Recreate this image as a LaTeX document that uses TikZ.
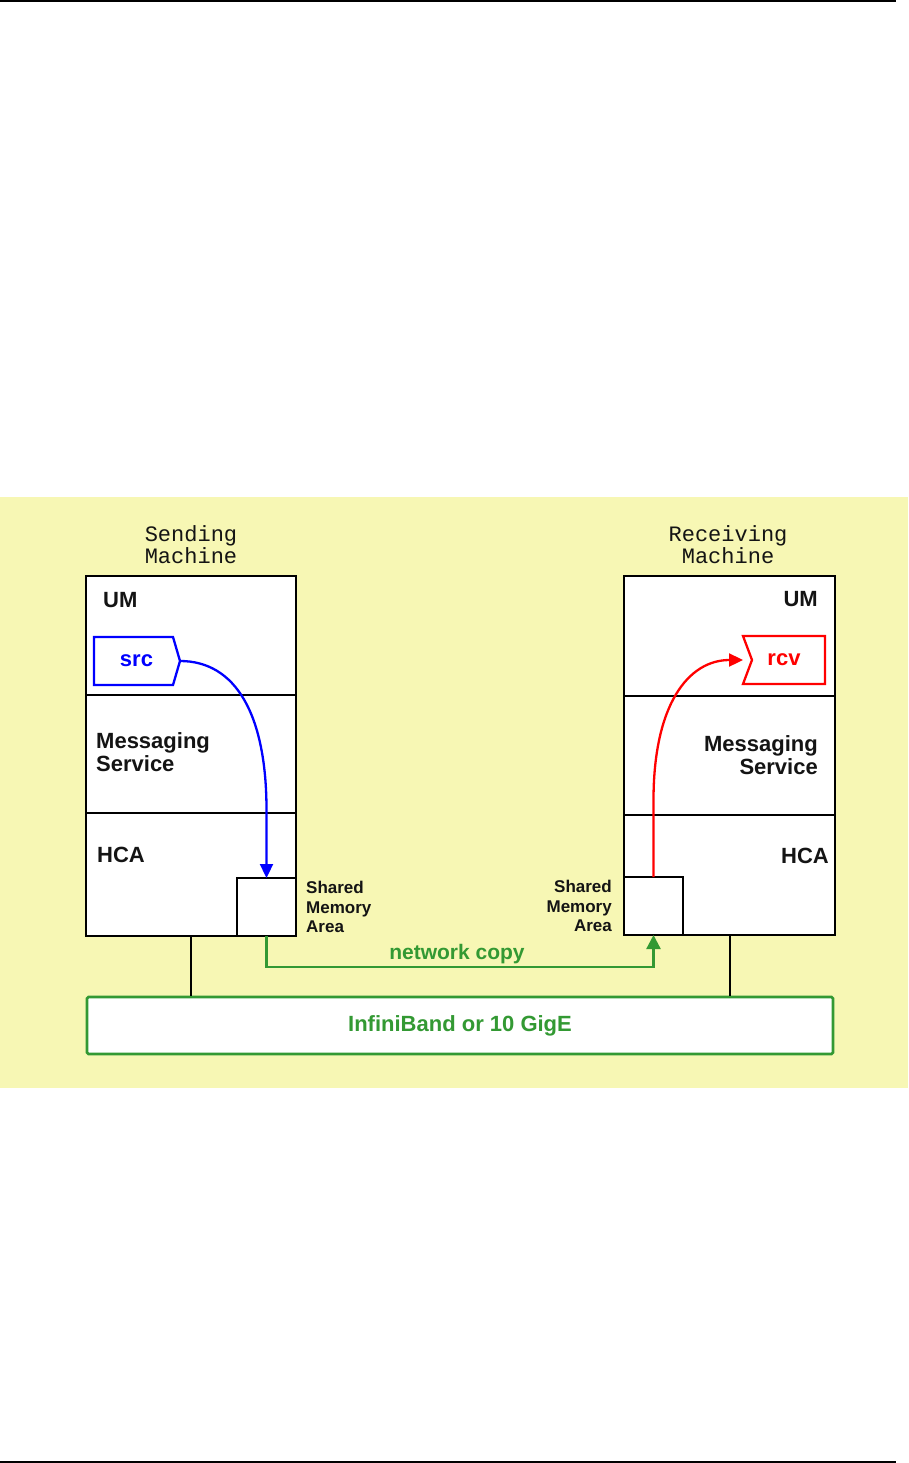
\documentclass[tikz,border=0pt]{standalone}
\usepackage{fontspec}
\setmainfont{Liberation Sans}
\newfontfamily\monofam{Liberation Mono}
\usetikzlibrary{arrows.meta}
\definecolor{bgyellow}{RGB}{247,247,180}
\definecolor{netgreen}{RGB}{51,153,51}
\definecolor{txtblack}{RGB}{20,20,20}
\begin{document}
\begin{tikzpicture}[x=1pt,y=-1pt,
  layer/.style={rectangle, draw=black, fill=white, line width=2.4pt, inner sep=0pt, outer sep=0pt},
  lbl/.style={inner sep=0pt, font=\fontsize{22}{23}\selectfont\bfseries, text=txtblack},
  smalllbl/.style={inner sep=0pt, font=\fontsize{17}{19.5}\selectfont\bfseries, text=txtblack},
  machtitle/.style={inner sep=0pt, font=\fontsize{22}{22}\selectfont\monofam, text=txtblack, align=center},
  endpt/.style={rectangle, inner sep=0pt, outer sep=0pt, minimum height=48pt, font=\fontsize{22}{24}\selectfont\bfseries},
  flow/.style={line width=2.3pt, -{Triangle[length=14pt,width=13pt]}},
  wire/.style={line width=2.3pt, draw=black}]
\useasboundingbox (0,0) rectangle (908,1463);
% page rules
\draw[line width=2pt] (0,1) -- (896,1);
\draw[line width=2pt] (0,1461.5) -- (896,1461.5);
% background
\fill[bgyellow] (0,497) rectangle (908,1088);
% titles
\node[machtitle] (sendt) at (191,545) {Sending\\Machine};
\node[machtitle] (recvt) at (728,545) {Receiving\\Machine};
% sending machine
\node[layer, minimum width=210pt, minimum height=119pt] (lum) at (191,635.5) {};
\node[layer, minimum width=210pt, minimum height=118pt] (lms) at (191,754) {};
\node[layer, minimum width=210pt, minimum height=123pt] (lhca) at (191,874.5) {};
\node[layer, minimum width=59pt, minimum height=58pt] (lshm) at (266.5,907) {};
\node[lbl, anchor=west] (lumt) at (103,600) {UM};
\node[lbl, anchor=west, align=left] (lmst) at (96,752.5) {Messaging\\Service};
\node[lbl, anchor=west] (lhcat) at (97,855) {HCA};
\node[smalllbl, anchor=west, align=left] (lshmt) at (306,907) {Shared\\Memory\\Area};
% receiving machine
\node[layer, minimum width=211pt, minimum height=120pt] (rum) at (729.5,636) {};
\node[layer, minimum width=211pt, minimum height=119pt] (rms) at (729.5,755.5) {};
\node[layer, minimum width=211pt, minimum height=120pt] (rhca) at (729.5,875) {};
\node[layer, minimum width=59pt, minimum height=58pt] (rshm) at (653.5,906) {};
\node[lbl, anchor=east] (rumt) at (818,599) {UM};
\node[lbl, anchor=east, align=right] (rmst) at (818,755.5) {Messaging\\Service};
\node[lbl, anchor=east] (rhcat) at (829,856) {HCA};
\node[smalllbl, anchor=east, align=right] (rshmt) at (612,906) {Shared\\Memory\\Area};
% src and rcv
\node[endpt, minimum width=79pt, text=blue] (src) at (133.5,661) {\hspace*{6pt}src};
\draw[blue, line width=2.3pt, line join=miter] (src.north west) -- (src.north east) -- ([xshift=7pt]src.east) -- (src.south east) -- (src.south west) -- cycle;
\coordinate (srctip) at ([xshift=7pt]src.east);
\node[endpt, minimum width=82pt, text=red] (rcv) at (784,660) {rcv};
\draw[red, line width=2.3pt, line join=miter] (rcv.north west) -- (rcv.north east) -- (rcv.south east) -- (rcv.south west) -- ([xshift=9pt]rcv.west) -- cycle;
% network
\node[rectangle, draw=netgreen, fill=white, line width=2.6pt, rounded corners=1.5pt, minimum width=746pt, minimum height=57pt, inner sep=0pt, font=\fontsize{22}{24}\selectfont\bfseries, text=netgreen] (net) at (460,1025.5) {InfiniBand or 10 GigE};
\coordinate (lx) at (191,0);
\coordinate (rx) at (730,0);
\draw[wire] (lhca.south -| lx) -- (net.north -| lx);
\draw[wire] (rhca.south -| rx) -- (net.north -| rx);
% flows
\draw[flow, blue] (srctip) .. controls (236,661) and (266.5,715) .. (266.5,810) -- (lshm.north);
\draw[flow, red] (rshm.north) -- (653.5,800) .. controls (653.5,705) and (688,660) .. (rcv.west);
\draw[flow, netgreen, -{Triangle[length=14pt,width=14pt]}] (lshm.south) -- (266.5,967) -| (rshm.south);
\node[inner sep=0pt, font=\fontsize{21}{23}\selectfont\bfseries, text=netgreen] (copyt) at (457,954) {network copy};
\end{tikzpicture}
\end{document}
